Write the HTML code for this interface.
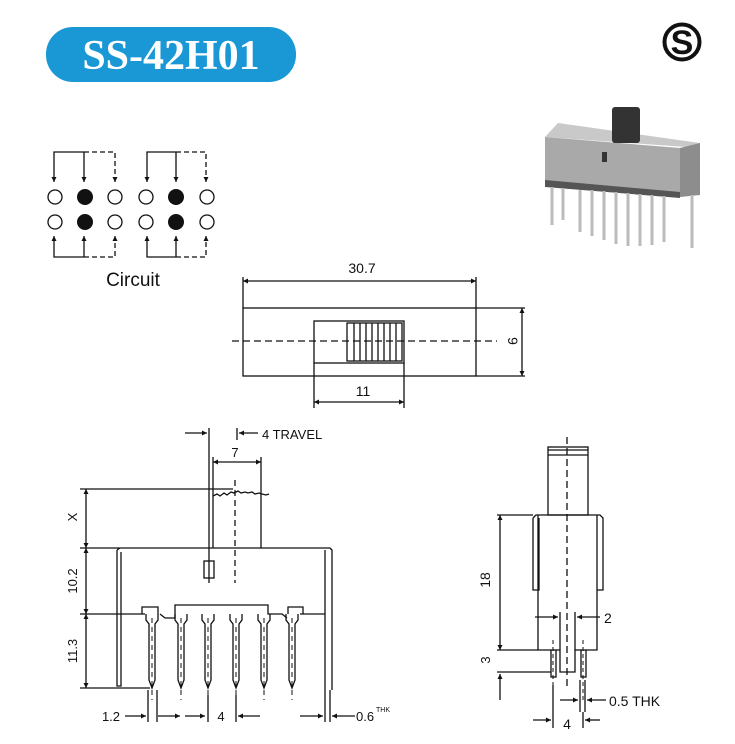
<!DOCTYPE html>
<html><head><meta charset="utf-8"><style>
html,body{margin:0;padding:0;background:#fff}
svg{display:block}
text{font-family:"Liberation Sans",Arial,sans-serif;fill:#111}
</style></head><body>
<svg width="735" height="744" viewBox="0 0 735 744" xmlns="http://www.w3.org/2000/svg">
<defs>
<marker id="a" viewBox="0 0 10 10" refX="10" refY="5" markerWidth="9" markerHeight="5" orient="auto-start-reverse" markerUnits="userSpaceOnUse"><path d="M0,0 L10,5 L0,10 z" fill="#111"/></marker>
</defs>
<!-- title -->
<rect x="46" y="27" width="250" height="55" rx="27" fill="#1a98d5"/>
<text x="171" y="69" text-anchor="middle" style="font-family:'Liberation Serif',serif;font-weight:bold;font-size:42px;fill:#fff">SS-42H01</text>
<!-- logo -->
<circle cx="682" cy="42" r="17.5" fill="none" stroke="#111" stroke-width="4"/>
<text x="682" y="54" text-anchor="middle" style="font-family:'Liberation Sans',sans-serif;font-weight:bold;font-size:34px">S</text>

<g stroke="#111" stroke-width="1.3" fill="none">
<!-- circuit -->
<path d="M84,152 H54 V182" marker-end="url(#a)"/>
<path d="M84,152 V182" marker-end="url(#a)"/>
<path d="M176,152 H147 V182" marker-end="url(#a)"/>
<path d="M176,152 V182" marker-end="url(#a)"/>
<path d="M84,257 H54 V236" marker-end="url(#a)"/>
<path d="M84,257 V236" marker-end="url(#a)"/>
<path d="M176,257 H147 V236" marker-end="url(#a)"/>
<path d="M176,257 V236" marker-end="url(#a)"/>
<path d="M84,152 H115 V182" stroke-dasharray="5,3" marker-end="url(#a)"/>
<path d="M176,152 H206 V182" stroke-dasharray="5,3" marker-end="url(#a)"/>
<path d="M84,257 H115 V236" stroke-dasharray="5,3" marker-end="url(#a)"/>
<path d="M176,257 H206 V236" stroke-dasharray="5,3" marker-end="url(#a)"/>
<circle cx="55" cy="197" r="7"/><circle cx="115" cy="197" r="7"/><circle cx="146" cy="197" r="7"/><circle cx="207" cy="197" r="7"/>
<circle cx="55" cy="222" r="7"/><circle cx="115" cy="222" r="7"/><circle cx="146" cy="222" r="7"/><circle cx="207" cy="222" r="7"/>
</g>
<g fill="#111"><circle cx="85" cy="197" r="8"/><circle cx="176" cy="197" r="8"/><circle cx="85" cy="222" r="8"/><circle cx="176" cy="222" r="8"/></g>
<text x="133" y="286" text-anchor="middle" font-size="19">Circuit</text>

<!-- photo -->
<polygon points="558,123 700,143 700,148 545,137" fill="#c9c9c9"/>
<polygon points="545,137 680,148 680,197 545,185" fill="#a9a9a9"/>
<polygon points="680,148 700,143 700,195 680,197" fill="#8d8d8d"/>
<polygon points="545,180 680,192 680,198 545,187" fill="#555"/>
<rect x="612" y="107" width="28" height="36" rx="3" fill="#333"/>
<rect x="602" y="152" width="5" height="10" fill="#333"/>
<g stroke="#bbb" stroke-width="3">
<path d="M552,187 V225 M563,188 V220 M580,190 V232 M592,190 V236 M604,191 V240 M616,192 V244 M628,193 V246 M640,194 V246 M652,195 V245 M664,196 V242 M692,195 V248"/>
</g>

<g stroke="#111" stroke-width="1.3" fill="none">
<!-- top view -->
<rect x="243" y="308" width="233" height="68"/>
<rect x="314" y="321" width="90" height="42"/>
<rect x="347" y="323" width="55" height="38"/>
<path d="M354,323V361 M360,323V361 M366,323V361 M372,323V361 M378,323V361 M384,323V361 M390,323V361 M396,323V361"/>
<path d="M232,341 H497" stroke-dasharray="7,4"/>
<path d="M243,277 V308 M476,277 V308 M476,308 H525 M476,376 H525 M314,363 V408 M404,363 V408"/>
<path d="M243,281 H476" marker-start="url(#a)" marker-end="url(#a)"/>
<path d="M522,308 V376" marker-start="url(#a)" marker-end="url(#a)"/>
<path d="M314,402 H404" marker-start="url(#a)" marker-end="url(#a)"/>
</g>
<text x="362" y="273" text-anchor="middle" font-size="14">30.7</text>
<text x="363" y="396" text-anchor="middle" font-size="14">11</text>
<text transform="translate(508,341) rotate(90)" text-anchor="middle" font-size="14">9</text>

<g stroke="#111" stroke-width="1.3" fill="none">
<!-- front view -->
<path d="M209,428 V583 M237,428 V440"/>
<path d="M185,433 H207" marker-end="url(#a)"/>
<path d="M258,433 H239" marker-end="url(#a)"/>
<path d="M213,457 V548 M261,457 V548"/>
<path d="M213,462 H261" marker-start="url(#a)" marker-end="url(#a)"/>
<path d="M213,496 l4,-2 3,2 4,-3 3,2 4,-3 3,1 4,-2 3,2 4,-1 3,1 4,-1 3,2 4,-1 3,1 4,1 3,-1"/>
<path d="M80,489 H233 M80,548 H330 M117,550 l3,-2 H330 l2,2 V690 M117,550 V686 H121 V552 M325,550 V690"/>
<path d="M80,614 H145 M160,614 l5,4 H175 V605 H268 V614 H282 l5,4 M300,614 H325 M142,614 V607 H158 V614 M288,614 V607 H303 V614"/>
<rect x="204" y="561" width="10" height="17"/>
<path d="M235,480 V583" stroke-dasharray="6,4"/>
<g id="pin"><path d="M146,614 V620 l3,4 V680 l3,8 3,-8 V624 l3,-4 V614"/></g>
<use href="#pin" x="29"/><use href="#pin" x="56"/><use href="#pin" x="84"/><use href="#pin" x="112"/><use href="#pin" x="140"/>
<path d="M152,618 V700 M181,618 V700 M208,618 V700 M236,618 V700 M264,618 V700 M292,618 V700" stroke-dasharray="5,4" stroke-width="1"/>
<path d="M86,489 V548" marker-start="url(#a)" marker-end="url(#a)"/>
<path d="M86,548 V614" marker-start="url(#a)" marker-end="url(#a)"/>
<path d="M86,614 V688" marker-start="url(#a)" marker-end="url(#a)"/>
<path d="M80,688 H150 M148,690 V722 M157,690 V722 M208,695 V722 M236,695 V722 M325,690 V722 M330,690 V722"/>
<path d="M125,716 H146" marker-end="url(#a)"/>
<path d="M180,716 H158" marker-start="url(#a)"/>
<path d="M185,716 H205" marker-end="url(#a)"/>
<path d="M260,716 H238" marker-end="url(#a)"/>
<path d="M300,716 H323" marker-end="url(#a)"/>
<path d="M355,716 H332" marker-end="url(#a)"/>
</g>
<text x="262" y="439" font-size="13">4 TRAVEL</text>
<text x="235" y="457" text-anchor="middle" font-size="13">7</text>
<text transform="translate(77,517) rotate(-90)" text-anchor="middle" font-size="13">X</text>
<text transform="translate(77,581) rotate(-90)" text-anchor="middle" font-size="13">10.2</text>
<text transform="translate(77,651) rotate(-90)" text-anchor="middle" font-size="13">11.3</text>
<text x="111" y="721" text-anchor="middle" font-size="13">1.2</text>
<text x="221" y="721" text-anchor="middle" font-size="13">4</text>
<text x="356" y="721" font-size="13">0.6</text>
<text x="376" y="712" font-size="7">THK</text>

<g stroke="#111" stroke-width="1.3" fill="none">
<!-- side view -->
<rect x="548" y="447" width="40" height="68"/>
<path d="M548,450 H588 M548,455 H588"/>
<path d="M567,437 V686" stroke-dasharray="7,4"/>
<path d="M533,518 l3,-3 H600 l3,3 V590 H597 V518 M533,518 V590 H539 V518 M538,515 V650 H551 M556,650 H560 V672 H575 V650 H581 M586,650 H597 V515"/>
<path d="M560,612 V650 M575,612 V650"/>
<path d="M535,617 H558" marker-end="url(#a)"/>
<path d="M600,617 H577" marker-end="url(#a)"/>
<rect x="551" y="650" width="5" height="27"/>
<rect x="581" y="650" width="5" height="27"/>
<path d="M553,640 V700 M583,640 V700" stroke-dasharray="4,3" stroke-width="1"/>
<path d="M497,515 H533 M497,650 H538 M497,672 H551"/>
<path d="M500,515 V650" marker-start="url(#a)" marker-end="url(#a)"/>
<path d="M500,700 V674" marker-end="url(#a)"/>
<path d="M580,680 V712 M585,680 V712 M553,685 V728 M583,712 V728"/>
<path d="M560,700 H578" marker-end="url(#a)"/>
<path d="M606,700 H587" marker-end="url(#a)"/>
<path d="M533,720 H551" marker-end="url(#a)"/>
<path d="M600,720 H585" marker-end="url(#a)"/>
</g>
<text transform="translate(490,580) rotate(-90)" text-anchor="middle" font-size="14">18</text>
<text transform="translate(490,660) rotate(-90)" text-anchor="middle" font-size="13">3</text>
<text x="604" y="623" font-size="14">2</text>
<text x="609" y="706" font-size="14">0.5 THK</text>
<text x="567" y="729" text-anchor="middle" font-size="14">4</text>
</svg>
</body></html>
